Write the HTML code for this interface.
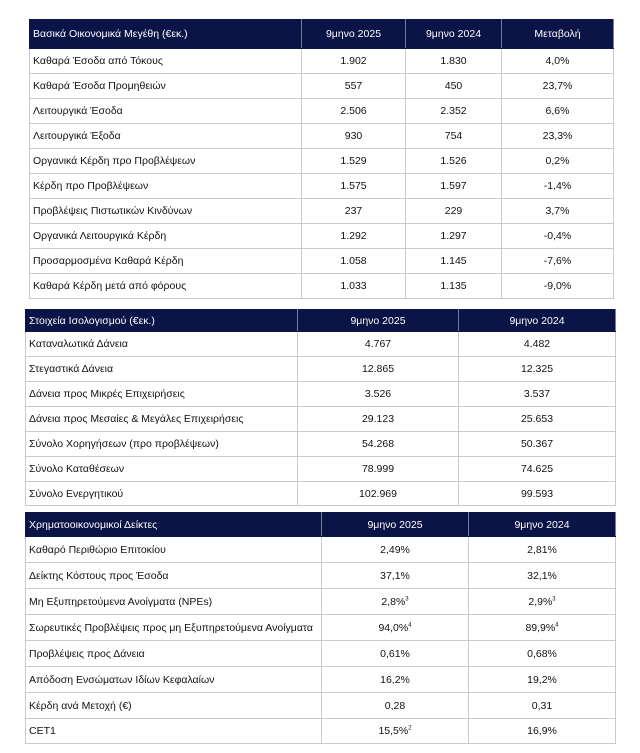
<!DOCTYPE html>
<html><head><meta charset="utf-8"><style>
body{margin:0;background:#fff;width:640px;height:753px;position:relative;font-family:"Liberation Sans",sans-serif;font-size:10.5px;color:#111;}
table{position:absolute;border-collapse:collapse;table-layout:fixed;}
td,th{border:1px solid #c9c9d2;padding:0 0 0 3px;white-space:nowrap;overflow:hidden;}
th{background:#0b1446;color:#fff;font-weight:normal;border-color:#0b1446;border-right-color:#7a7f99;}
td+td,th+th{text-align:center;padding:0;}
th:first-child,td:first-child{text-align:left;}
sup{font-size:6px;}
</style></head><body>
<table style="left:29px;top:19px;width:584px">
<colgroup><col style="width:272px"><col style="width:104px"><col style="width:96px"><col style="width:112px"></colgroup>
<tr style="height:29px"><th>Βασικά Οικονομικά Μεγέθη (€εκ.)</th><th>9μηνο 2025</th><th>9μηνο 2024</th><th>Μεταβολή</th></tr>
<tr style="height:25px"><td>Καθαρά Έσοδα από Τόκους</td><td>1.902</td><td>1.830</td><td>4,0%</td></tr>
<tr style="height:25px"><td>Καθαρά Έσοδα Προμηθειών</td><td>557</td><td>450</td><td>23,7%</td></tr>
<tr style="height:25px"><td>Λειτουργικά Έσοδα</td><td>2.506</td><td>2.352</td><td>6,6%</td></tr>
<tr style="height:25px"><td>Λειτουργικά Έξοδα</td><td>930</td><td>754</td><td>23,3%</td></tr>
<tr style="height:25px"><td>Οργανικά Κέρδη προ Προβλέψεων</td><td>1.529</td><td>1.526</td><td>0,2%</td></tr>
<tr style="height:25px"><td>Κέρδη προ Προβλέψεων</td><td>1.575</td><td>1.597</td><td>-1,4%</td></tr>
<tr style="height:25px"><td>Προβλέψεις Πιστωτικών Κινδύνων</td><td>237</td><td>229</td><td>3,7%</td></tr>
<tr style="height:25px"><td>Οργανικά Λειτουργικά Κέρδη</td><td>1.292</td><td>1.297</td><td>-0,4%</td></tr>
<tr style="height:25px"><td>Προσαρμοσμένα Καθαρά Κέρδη</td><td>1.058</td><td>1.145</td><td>-7,6%</td></tr>
<tr style="height:25px"><td>Καθαρά Κέρδη μετά από φόρους</td><td>1.033</td><td>1.135</td><td>-9,0%</td></tr>
</table>
<table style="left:25px;top:309px;width:590px">
<colgroup><col style="width:272px"><col style="width:161px"><col style="width:157px"></colgroup>
<tr style="height:22px"><th>Στοιχεία Ισολογισμού (€εκ.)</th><th>9μηνο 2025</th><th>9μηνο 2024</th></tr>
<tr style="height:25px"><td>Καταναλωτικά Δάνεια</td><td>4.767</td><td>4.482</td></tr>
<tr style="height:25px"><td>Στεγαστικά Δάνεια</td><td>12.865</td><td>12.325</td></tr>
<tr style="height:25px"><td>Δάνεια προς Μικρές Επιχειρήσεις</td><td>3.526</td><td>3.537</td></tr>
<tr style="height:25px"><td>Δάνεια προς Μεσαίες &amp; Μεγάλες Επιχειρήσεις</td><td>29.123</td><td>25.653</td></tr>
<tr style="height:25px"><td>Σύνολο Χορηγήσεων (προ προβλέψεων)</td><td>54.268</td><td>50.367</td></tr>
<tr style="height:25px"><td>Σύνολο Καταθέσεων</td><td>78.999</td><td>74.625</td></tr>
<tr style="height:24px"><td>Σύνολο Ενεργητικού</td><td>102.969</td><td>99.593</td></tr>
</table>
<table style="left:25px;top:512px;width:590px">
<colgroup><col style="width:296px"><col style="width:147px"><col style="width:147px"></colgroup>
<tr style="height:24px"><th>Χρηματοοικονομικοί Δείκτες</th><th>9μηνο 2025</th><th>9μηνο 2024</th></tr>
<tr style="height:26px"><td>Καθαρό Περιθώριο Επιτοκίου</td><td>2,49%</td><td>2,81%</td></tr>
<tr style="height:26px"><td>Δείκτης Κόστους προς Έσοδα</td><td>37,1%</td><td>32,1%</td></tr>
<tr style="height:26px"><td>Μη Εξυπηρετούμενα Ανοίγματα (NPEs)</td><td>2,8%<sup>3</sup></td><td>2,9%<sup>3</sup></td></tr>
<tr style="height:26px"><td>Σωρευτικές Προβλέψεις προς μη Εξυπηρετούμενα Ανοίγματα</td><td>94,0%<sup>4</sup></td><td>89,9%<sup>4</sup></td></tr>
<tr style="height:26px"><td>Προβλέψεις προς Δάνεια</td><td>0,61%</td><td>0,68%</td></tr>
<tr style="height:26px"><td>Απόδοση Ενσώματων Ιδίων Κεφαλαίων</td><td>16,2%</td><td>19,2%</td></tr>
<tr style="height:26px"><td>Κέρδη ανά Μετοχή (€)</td><td>0,28</td><td>0,31</td></tr>
<tr style="height:25px"><td>CET1</td><td>15,5%<sup>2</sup></td><td>16,9%</td></tr>
</table>
</body></html>
